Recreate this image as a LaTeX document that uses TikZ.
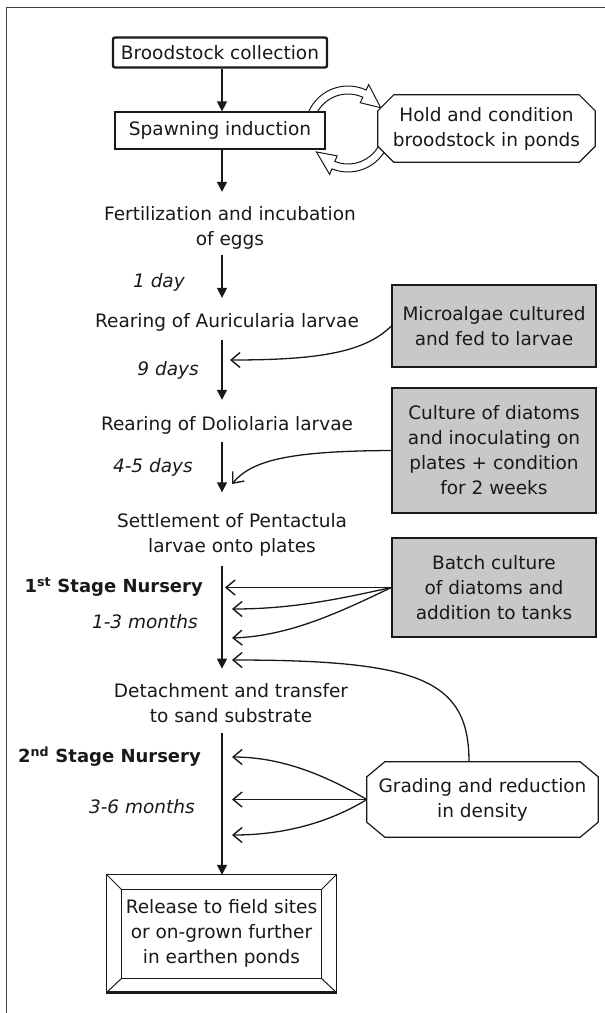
\documentclass[tikz,border=0pt]{standalone}
\usepackage{fontspec}
\setmainfont{DejaVu Sans}
\usetikzlibrary{arrows.meta,calc}
\definecolor{boxgray}{RGB}{200,200,200}
\definecolor{ink}{RGB}{25,25,25}
\begin{document}
\begin{tikzpicture}[x=1pt,y=-1pt,
  every node/.style={font=\fontsize{18.5}{25}\selectfont, align=center, inner sep=0pt, text=ink},
  flow/.style={draw=ink, line width=1.2pt, -{Triangle[length=10pt,width=10pt]}},
  feed/.style={draw=ink, line width=1.3pt, -{Straight Barb[length=9pt,width=15pt,line width=1.4pt]}},
  lbl/.style={anchor=east, font=\fontsize{18.5}{25}\selectfont\itshape},
  stage/.style={anchor=east, font=\fontsize{18}{25}\selectfont\bfseries},
  graybox/.style={draw=ink, line width=1.3pt, fill=boxgray, minimum width=204pt},
  octo/.style={draw=ink, line width=1.2pt, fill=white},
  band/.style={draw=ink, line width=1pt, fill=white},
]
\useasboundingbox (0,0) rectangle (605,1013);
% frame lines
\draw[black!75, line width=1.3pt] (6.5,1013) -- (6.5,7.5) -- (605,7.5);

% cycle arrows (drawn first, boxes cover their ends)
\begin{scope}[shift={(348,129)}, yscale=-1]
  \draw[band] (200:43) arc[start angle=200, end angle=65, radius=43]
     -- (65:49) -- (33:39) -- (65:29) -- (65:35)
     arc[start angle=65, end angle=200, radius=35] -- cycle;
  \draw[band] (0:43) arc[start angle=0, end angle=-112, radius=43]
     -- (-112:49) -- (-144:39) -- (-112:29) -- (-112:35)
     arc[start angle=-112, end angle=0, radius=35] -- cycle;
\end{scope}

% main column
\node[draw=ink, line width=2.4pt, rounded corners=2pt, fill=white,
      minimum width=214pt, minimum height=30pt] (brood) at (220,52.5) {Broodstock collection};
\node[draw=ink, line width=1.2pt, fill=white, minimum width=210pt, minimum height=37pt]
      (spawn) at (220,130.5) {Spawning induction};
\node[minimum width=217pt, minimum height=67pt] (hold) at (486.5,128.5) {};
\draw[octo] ([yshift=-16pt]hold.north west) -- ([xshift=16pt]hold.north west)
  -- ([xshift=-16pt]hold.north east) -- ([yshift=-16pt]hold.north east)
  -- ([yshift=16pt]hold.south east) -- ([xshift=-16pt]hold.south east)
  -- ([xshift=16pt]hold.south west) -- ([yshift=16pt]hold.south west) -- cycle;
\node at (hold.center) {Hold and condition\\broodstock in ponds};

\node (fert) at (230,227.5) {Fertilization and incubation\\of eggs};
\node (auric) at (227,322) {Rearing of Auricularia larvae};
\node (dolio) at (227,425) {Rearing of Doliolaria larvae};
\node (settle) at (232,535) {Settlement of Pentactula\\larvae onto plates};
\node (detach) at (231,703.5) {Detachment and transfer\\to sand substrate};

\node[minimum width=229pt, minimum height=117pt] (rel) at (221.5,933.5) {Release to field sites\\or on-grown further\\in earthen ponds};
\draw[draw=ink, line width=1.2pt] (rel.north west) rectangle (rel.south east);
\draw[draw=ink, line width=1.1pt] ([shift={(15pt,-15pt)}]rel.north west) rectangle ([shift={(-15pt,14pt)}]rel.south east);
\draw[draw=ink, line width=1pt] (rel.north west) -- ([shift={(15pt,-15pt)}]rel.north west)
  (rel.north east) -- ([shift={(-15pt,-15pt)}]rel.north east)
  (rel.south west) -- ([shift={(15pt,14pt)}]rel.south west)
  (rel.south east) -- ([shift={(-15pt,14pt)}]rel.south east);
\draw[draw=ink, line width=3pt] ([xshift=-0.6pt]rel.south west) -- ([xshift=0.6pt]rel.south east);

% axis
\coordinate (ax) at (222,0);
\draw[flow] (brood.south -| ax) -- (spawn.north -| ax);
\draw[flow, shorten >=14pt] (spawn.south -| ax) -- (fert.north -| ax);
\draw[flow, shorten <=6pt, shorten >=15pt] (fert.south -| ax) -- (auric.north -| ax);
\draw[flow, shorten <=9pt, shorten >=16pt] (auric.south -| ax) -- (dolio.north -| ax);
\draw[flow, shorten <=8pt, shorten >=21pt] (dolio.south -| ax) -- (settle.north -| ax);
\draw[flow, shorten <=9pt, shorten >=15pt] (settle.south -| ax) -- (detach.north -| ax);
\draw[flow, shorten <=10pt] (detach.south -| ax) -- (rel.north -| ax);

% labels
\node[lbl] (l1) at (185,282) {1 day};
\node[lbl] (l2) at (199,370) {9 days};
\node[lbl] (l3) at (193,467) {4-5 days};
\node[stage] (s1) at (203,587) {1\textsuperscript{st} Stage Nursery};
\node[lbl] (l4) at (198,622) {1-3 months};
\node[stage] (s2) at (201,757) {2\textsuperscript{nd} Stage Nursery};
\node[lbl] (l5) at (195,807) {3-6 months};

% side boxes
\node[graybox, minimum height=82pt] (micro) at (494,326) {Microalgae cultured\\and fed to larvae};
\node[graybox, minimum height=125pt] (cult) at (494,450.5) {Culture of diatoms\\and inoculating on\\plates + condition\\for 2 weeks};
\node[graybox, minimum height=99pt] (batch) at (494,587.5) {Batch culture\\of diatoms and\\addition to tanks};
\node[minimum width=231pt, minimum height=75pt] (grade) at (482.5,799.5) {};
\draw[octo] ([yshift=-15pt]grade.north west) -- ([xshift=18pt]grade.north west)
  -- ([xshift=-18pt]grade.north east) -- ([yshift=-15pt]grade.north east)
  -- ([yshift=15pt]grade.south east) -- ([xshift=-18pt]grade.south east)
  -- ([xshift=18pt]grade.south west) -- ([yshift=15pt]grade.south west) -- cycle;
\node at (grade.center) {Grading and reduction\\in density};

% feed targets
\coordinate (m1) at (230,360);
\coordinate (c1) at (232,484);
\coordinate (b1) at (225,587.5);
\coordinate (b2) at (232,609);
\coordinate (b3) at (232,638);
\coordinate (g0) at (232,660);
\coordinate (g1) at (232,757);
\coordinate (g2) at (232,799.5);
\coordinate (g3) at (232,835);

\draw[feed] (micro.west) .. controls (365,352) and (320,360) .. (m1);
\draw[feed] (cult.west) .. controls (290,451) and (252,460) .. (c1);
\draw[feed] (batch.west) -- (b1);
\draw[feed] (batch.west) .. controls (335,600) and (290,609) .. (b2);
\draw[feed] (batch.west) .. controls (340,612) and (290,636) .. (b3);
\draw[feed] ([xshift=-13.5pt]grade.north) .. controls (469,680) and (420,660) .. (g0);
\draw[feed] (grade.west) .. controls (330,778) and (285,757) .. (g1);
\draw[feed] (grade.west) -- (g2);
\draw[feed] (grade.west) .. controls (330,822) and (285,835) .. (g3);
\end{tikzpicture}
\end{document}
